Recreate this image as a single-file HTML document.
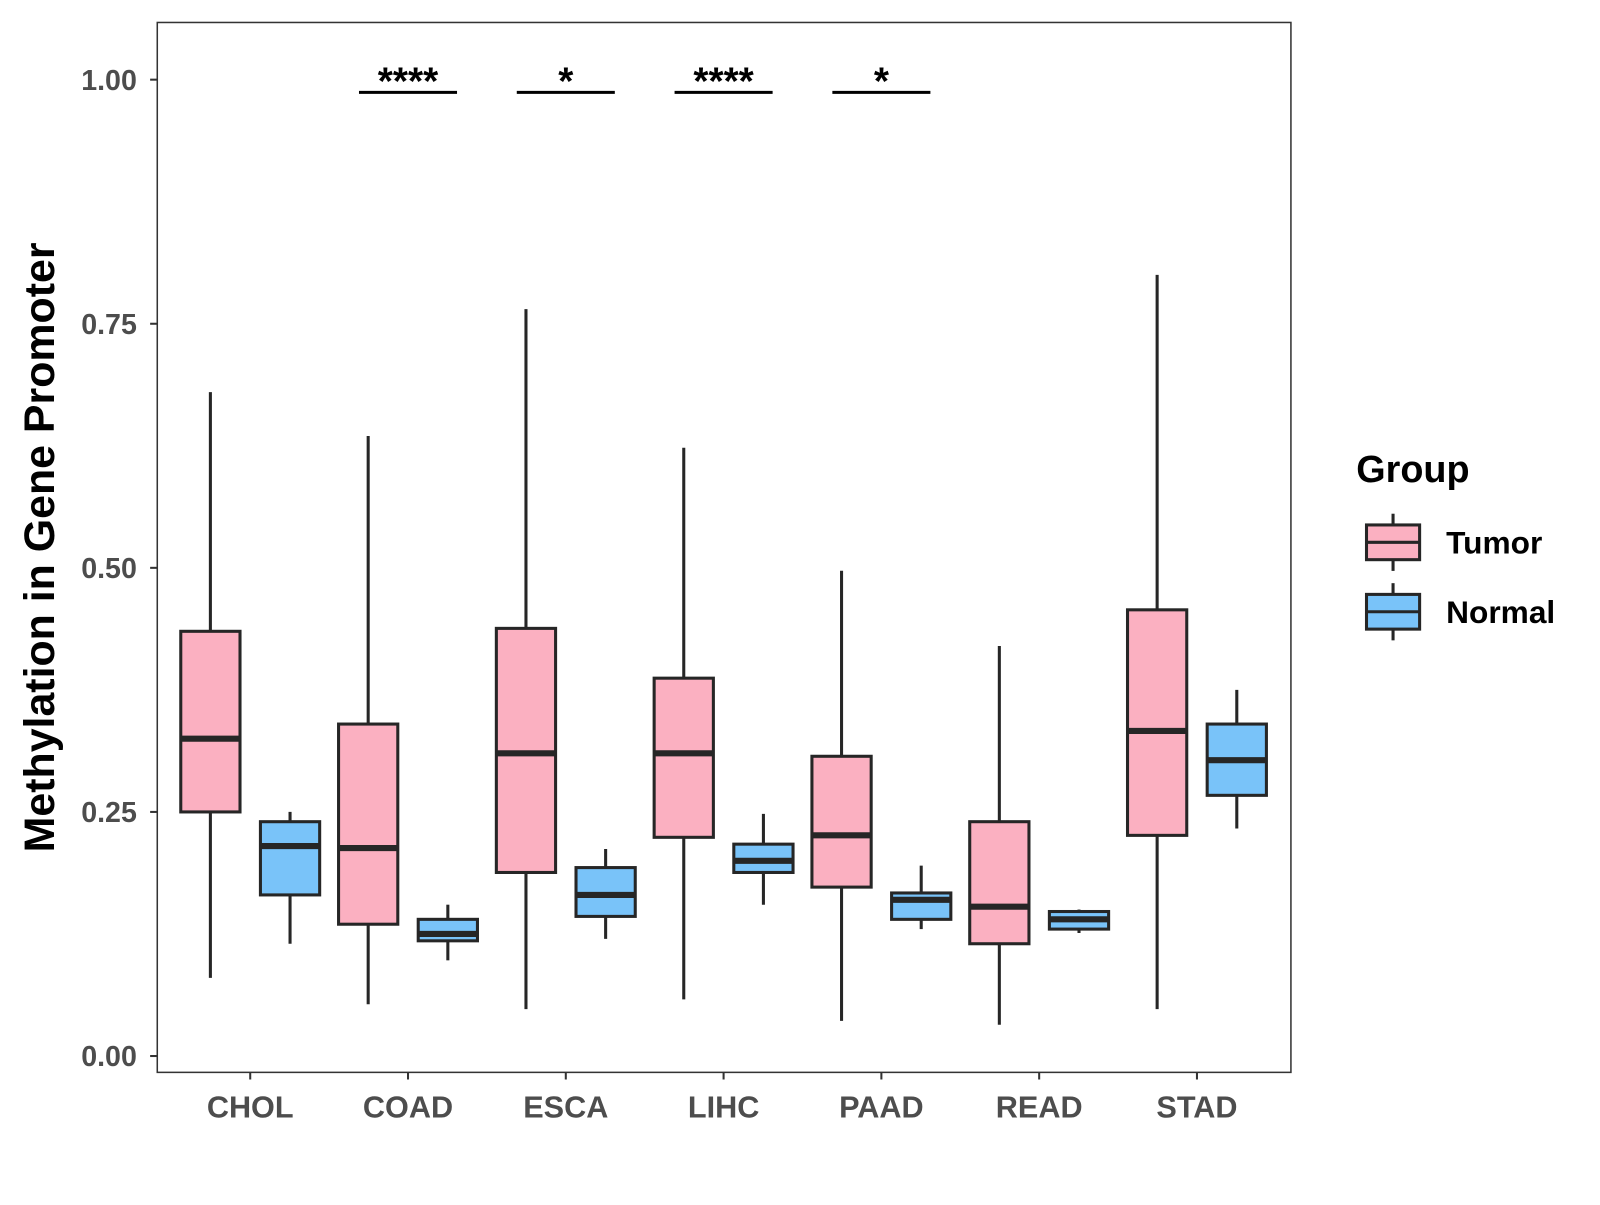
<!DOCTYPE html>
<html><head><meta charset="utf-8"><style>
body{margin:0;background:#fff}
svg text{font-family:"Liberation Sans",Arial,sans-serif;font-weight:bold}
</style></head><body>
<svg id="chart" width="1600" height="1200" viewBox="0 0 1600 1200" xmlns="http://www.w3.org/2000/svg">
<rect width="1600" height="1200" fill="#fff"/>
<g id="g" transform="scale(1.0213)"></g>
</svg>
<script>
const categories=["CHOL","COAD","ESCA","LIHC","PAAD","READ","STAD"];
// [whiskerLow, q1, median, q3, whiskerHigh]
const tumor=[[0.08,0.25,0.325,0.435,0.68],[0.053,0.135,0.213,0.34,0.635],[0.048,0.188,0.31,0.438,0.765],[0.058,0.224,0.31,0.387,0.623],[0.036,0.173,0.226,0.307,0.497],[0.032,0.115,0.153,0.24,0.42],[0.048,0.226,0.333,0.457,0.8]];
const normal=[[0.115,0.165,0.215,0.24,0.25],[0.098,0.118,0.125,0.14,0.155],[0.12,0.143,0.165,0.193,0.212],[0.155,0.188,0.2,0.217,0.248],[0.13,0.14,0.16,0.167,0.195],[0.126,0.13,0.14,0.148,0.15],[0.233,0.267,0.303,0.34,0.375]];
const yTicks=[0,0.25,0.5,0.75,1.0];
const yTickLabels=["0.00","0.25","0.50","0.75","1.00"];
const sigCats=["COAD","ESCA","LIHC","PAAD"];
const sigLabels=["****","*","****","*"];
const sigY=0.987;

const NS="http://www.w3.org/2000/svg";
const g=document.getElementById('g');
const y=v=>1034-v*956;
const x=i=>245+i*154.5;
function el(t,a,p){const e=document.createElementNS(NS,t);for(const k in a)e.setAttribute(k,a[k]);(p||g).appendChild(e);return e;}
const panel=el('rect',{x:154,y:22,width:1110,height:1028,fill:'none',stroke:'#333','stroke-width':1.5});


yTicks.forEach((v,i)=>{
  const t=el('line',{x1:147,x2:154,y1:y(v),y2:y(v),stroke:'#333','stroke-width':2});
  
  
  const l=el('text',{x:134,y:y(v)+10,'text-anchor':'end','font-size':28,fill:'#4d4d4d'});
  l.textContent=yTickLabels[i];
  
  
});
categories.forEach((c,i)=>{
  const t=el('line',{x1:x(i),x2:x(i),y1:1050,y2:1057,stroke:'#333','stroke-width':2});
  
  
  const l=el('text',{x:x(i),y:1094,'text-anchor':'middle','font-size':30,fill:'#4d4d4d'});
  l.textContent=c;
  
  
});
function box(cx,d,fill,name){
  const gg=el('g',{});
  
  
  el('line',{x1:cx,x2:cx,y1:y(d[0]),y2:y(d[4]),stroke:'#262626','stroke-width':3},gg);
  el('rect',{x:cx-29,y:y(d[3]),width:58,height:y(d[1])-y(d[3]),fill:fill,stroke:'#262626','stroke-width':3},gg);
  el('line',{x1:cx-29,x2:cx+29,y1:y(d[2]),y2:y(d[2]),stroke:'#262626','stroke-width':6},gg);
}
categories.forEach((c,i)=>{
  box(x(i)-39,tumor[i],'#fbb0c1','tumor-box-'+c.toLowerCase());
  box(x(i)+39,normal[i],'#79c3f9','normal-box-'+c.toLowerCase());
});
sigCats.forEach((c,j)=>{
  const i=categories.indexOf(c);
  const b=el('line',{x1:x(i)-48,x2:x(i)+48,y1:y(sigY),y2:y(sigY),stroke:'#000','stroke-width':3});
  
  
  const t=el('text',{x:x(i),y:y(sigY)+2,'text-anchor':'middle','font-size':38,fill:'#000'});
  t.textContent=sigLabels[j];
  
  
});
const yt=el('text',{x:0,y:0,transform:'translate(53,536) rotate(-90)','text-anchor':'middle','font-size':42,fill:'#000'});
yt.textContent='Methylation in Gene Promoter';


const lt=el('text',{x:1328,y:472,'font-size':37,fill:'#000'});
lt.textContent='Group';


[['Tumor','#fbb0c1',531],['Normal','#79c3f9',599]].forEach(([n,f,cy])=>{
  const gg=el('g',{});
  
  
  el('line',{x1:1364,x2:1364,y1:cy-28,y2:cy+28,stroke:'#262626','stroke-width':3},gg);
  el('rect',{x:1338,y:cy-17,width:52,height:34,fill:f,stroke:'#262626','stroke-width':3},gg);
  el('line',{x1:1338,x2:1390,y1:cy,y2:cy,stroke:'#262626','stroke-width':3},gg);
  const t=el('text',{x:1416,y:cy+11,'font-size':31,fill:'#000'},gg);
  t.textContent=n;
});
</script>
</body></html>
